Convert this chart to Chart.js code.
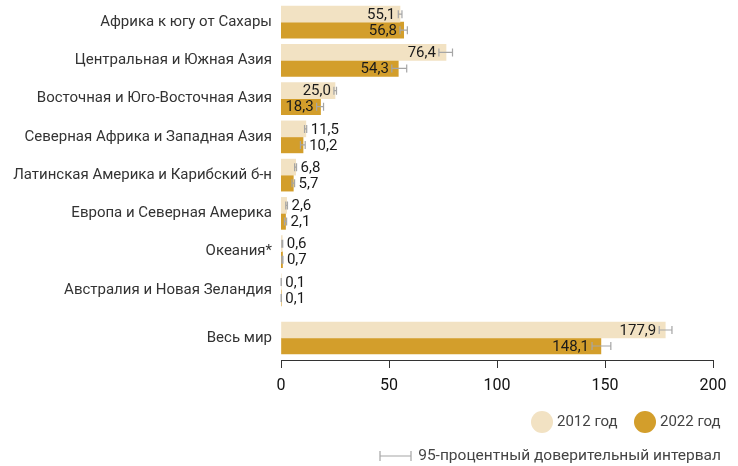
<!DOCTYPE html>
<html>
<head>
<meta charset="utf-8">
<script src="https://cdn.jsdelivr.net/npm/chart.js@4.4.1/dist/chart.umd.min.js"></script>
<style>
  html, body { margin: 0; padding: 0; background: #fff; }
  #wrap { width: 738px; height: 466px; position: relative; }
  canvas { display: block; }
</style>
</head>
<body>
<div id="wrap">
  <canvas id="regionsChart" width="738" height="309"></canvas>
  <canvas id="worldChart" width="738" height="157"></canvas>
</div>
<script>
const regions = [
  "Африка к югу от Сахары",
  "Центральная и Южная Азия",
  "Восточная и Юго-Восточная Азия",
  "Северная Африка и Западная Азия",
  "Латинская Америка и Карибский б-н",
  "Европа и Северная Америка",
  "Океания*",
  "Австралия и Новая Зеландия",
];
const worldLabel = ["Весь мир"];

const values2012 = [55.1, 76.4, 25.0, 11.5, 6.8, 2.6, 0.6, 0.1];
const values2022 = [56.8, 54.3, 18.3, 10.2, 5.7, 2.1, 0.7, 0.1];
const low2012 = [54.3, 73.1, 24.5, 10.9, 6.3, 2.2, 0.4, 0.05];
const high2012 = [56.0, 79.4, 25.7, 11.9, 7.2, 3.0, 0.8, 0.15];
const low2022 = [55.1, 51.3, 16.5, 9.0, 5.1, 1.6, 0.4, 0.05];
const high2022 = [58.5, 58.2, 19.7, 11.2, 6.3, 2.6, 0.9, 0.15];

const world2012 = [177.9];
const world2022 = [148.1];
const worldLow2012 = [175.1];
const worldHigh2012 = [181.0];
const worldLow2022 = [144.0];
const worldHigh2022 = [152.7];

const xTicks = [0, 50, 100, 150, 200];

const LIGHT = "#F2E2C3";
const DARK = "#D39E2B";
const FONT = "Roboto";

function errorBar(ctx, lo, hi, y, h) {
  ctx.beginPath();
  ctx.moveTo(lo, y); ctx.lineTo(hi, y);
  ctx.moveTo(lo, y - h); ctx.lineTo(lo, y + h);
  ctx.moveTo(hi, y - h); ctx.lineTo(hi, y + h);
  ctx.stroke();
}

// error bars + value labels
const barExtras = {
  id: "barExtras",
  afterDatasetsDraw(chart) {
    const ctx = chart.ctx;
    const x = chart.scales.x;
    ctx.save();
    chart.data.datasets.forEach((ds, i) => {
      const meta = chart.getDatasetMeta(i);
      meta.data.forEach((bar, j) => {
        const v = ds.data[j];
        const lo = x.getPixelForValue(ds.low[j]);
        const hi = x.getPixelForValue(ds.high[j]);
        const y = bar.y;
        ctx.strokeStyle = "#a6a6a6";
        ctx.lineWidth = 1.2;
        errorBar(ctx, lo, hi, y, 4);

        ctx.fillStyle = "#1a1a1a";
        ctx.font = "15px " + FONT;
        ctx.textBaseline = "middle";
        const txt = v.toFixed(1).replace(".", ",");
        if (v > 15) {
          ctx.textAlign = "right";
          ctx.fillText(txt, lo - 3, y + 1);
        } else {
          ctx.textAlign = "left";
          ctx.fillText(txt, Math.max(hi, bar.x) + 4, y + 1);
        }
      });
    });
    ctx.restore();
  }
};

const legendDraw = {
  id: "legendDraw",
  afterDraw(chart) {
    const ctx = chart.ctx;
    ctx.save();
    const lx = 542, ly = 113;
    ctx.font = "15px " + FONT;
    ctx.fillStyle = LIGHT;
    ctx.beginPath(); ctx.arc(lx, ly, 11, 0, Math.PI * 2); ctx.fill();
    ctx.fillStyle = DARK;
    ctx.beginPath(); ctx.arc(lx + 103, ly, 11, 0, Math.PI * 2); ctx.fill();
    ctx.fillStyle = "#444";
    ctx.textAlign = "left";
    ctx.textBaseline = "middle";
    ctx.fillText(chart.data.datasets[0].label, lx + 15, ly);
    ctx.fillText(chart.data.datasets[1].label, lx + 118, ly);

    const ey = 147;
    ctx.font = "15.5px " + FONT;
    ctx.strokeStyle = "#a6a6a6";
    ctx.lineWidth = 1.2;
    errorBar(ctx, 380, 411, ey, 5);
    ctx.textAlign = "right";
    ctx.fillText("95-процентный доверительный интервал", 721, ey);
    ctx.restore();
  }
};

const fixY = (scale) => {
  scale.width = 281;
  scale.paddingTop = 0;
  scale.paddingBottom = 0;
};

function yScale(labels) {
  return {
    type: "category",
    labels: labels,
    afterFit: fixY,
    grid: { display: false, drawTicks: false },
    border: { display: false },
    ticks: { color: "#333", font: { family: FONT, size: 15 }, padding: 9, autoSkip: false },
  };
}

function xScale(show) {
  return {
    display: show,
    min: 0,
    max: 200,
    afterBuildTicks: (scale) => { scale.ticks = xTicks.map((v) => ({ value: v })); },
    afterFit: (scale) => { if (show) scale.height = 40; },
    grid: { drawOnChartArea: false, drawTicks: true, tickLength: 8, color: "#333" },
    border: { color: "#333", width: 1 },
    ticks: { color: "#111", font: { family: FONT, size: 16 }, padding: 8 },
  };
}

const common = {
  indexAxis: "y",
  responsive: false,
  animation: false,
  devicePixelRatio: 1,
  datasets: {
    bar: { barThickness: 16, categoryPercentage: 1, barPercentage: 1 },
  },
  plugins: {
    legend: { display: false },
    tooltip: { enabled: false },
  },
};

new Chart(document.getElementById("regionsChart"), {
  type: "bar",
  data: {
    datasets: [
      { label: "2012 год", data: values2012, low: low2012, high: high2012, backgroundColor: LIGHT },
      { label: "2022 год", data: values2022, low: low2022, high: high2022, backgroundColor: DARK },
    ],
  },
  options: {
    ...common,
    layout: { padding: { top: 3, right: 25, bottom: 0, left: 0 } },
    scales: { x: xScale(false), y: yScale(regions) },
  },
  plugins: [barExtras],
});

new Chart(document.getElementById("worldChart"), {
  type: "bar",
  data: {
    datasets: [
      { label: "2012 год", data: world2012, low: worldLow2012, high: worldHigh2012, backgroundColor: LIGHT },
      { label: "2022 год", data: world2022, low: worldLow2022, high: worldHigh2022, backgroundColor: DARK },
    ],
  },
  options: {
    ...common,
    layout: { padding: { top: 7, right: 25, bottom: 66, left: 0 } },
    scales: { x: xScale(true), y: yScale(worldLabel) },
  },
  plugins: [barExtras, legendDraw],
});
</script>
</body>
</html>
